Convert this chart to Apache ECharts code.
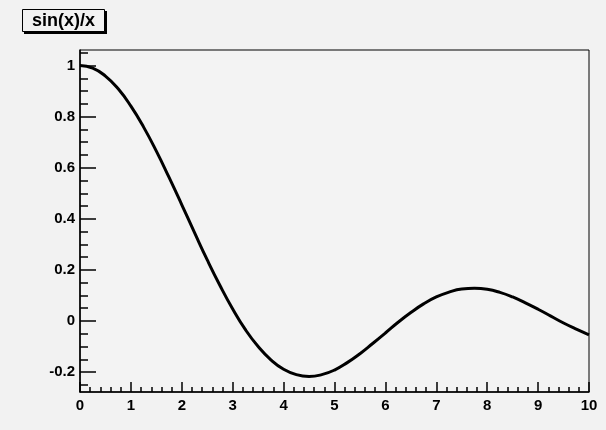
<!DOCTYPE html>
<html>
<head>
<meta charset="utf-8">
<script src="https://cdn.jsdelivr.net/npm/echarts@6/dist/echarts.min.js"></script>
<style>
  html, body { margin: 0; padding: 0; background: #f2f2f2; }
  #chart { width: 606px; height: 430px; }
</style>
</head>
<body>
<div id="chart"></div>
<script>
// curve samples (x, y)
var xValues = [0, 0.25, 0.5, 0.75, 1, 1.25, 1.5, 1.75, 2, 2.25, 2.5, 2.75, 3, 3.25, 3.5, 3.75,
  4, 4.25, 4.5, 4.75, 5, 5.25, 5.5, 5.75, 6, 6.25, 6.5, 6.75, 7, 7.25, 7.5, 7.75,
  8, 8.25, 8.5, 8.75, 9, 9.25, 9.5, 9.75, 10];
var yValues = [1, 0.990, 0.959, 0.909, 0.841, 0.759, 0.665, 0.562, 0.455, 0.346, 0.239, 0.139,
  0.047, -0.034, -0.100, -0.152, -0.189, -0.210, -0.217, -0.210, -0.192, -0.163, -0.128, -0.088,
  -0.047, -0.005, 0.033, 0.067, 0.094, 0.113, 0.125, 0.128, 0.124, 0.112, 0.094, 0.071,
  0.046, 0.019, -0.008, -0.032, -0.054];

var yTicks = [-0.2, 0, 0.2, 0.4, 0.6, 0.8, 1];
var yMinorTicks = [-0.25, -0.15, -0.1, -0.05, 0.05, 0.1, 0.15, 0.25, 0.3, 0.35, 0.45, 0.5, 0.55,
  0.65, 0.7, 0.75, 0.85, 0.9, 0.95, 1.05];
var titleText = 'sin(x)/x';

var points = xValues.map(function (x, i) { return [x, yValues[i]]; });

var font = 'Liberation Sans, Arial, sans-serif';
var labelStyle = { color: '#000', fontFamily: font, fontWeight: 'bold', fontSize: 15 };

var chart = echarts.init(document.getElementById('chart'));
chart.setOption({
  backgroundColor: '#f2f2f2',
  animation: false,
  grid: {
    left: 80, top: 50, right: 17, bottom: 38,
    show: true, borderColor: '#000', borderWidth: 1, backgroundColor: '#f3f3f3'
  },
  xAxis: {
    type: 'value', min: 0, max: 10, interval: 1,
    axisLine: { onZero: false, lineStyle: { color: '#000', width: 1.5 } },
    axisTick: { inside: true, length: 10, lineStyle: { color: '#000', width: 1.5 } },
    minorTick: { show: true, splitNumber: 5, length: 5, lineStyle: { color: '#000', width: 1.5 } },
    splitLine: { show: false },
    axisLabel: Object.assign({ margin: 6 }, labelStyle)
  },
  yAxis: [{
    type: 'value', min: -0.278, max: 1.061,
    axisLine: { show: true, onZero: false, lineStyle: { color: '#000', width: 1.5 } },
    axisTick: { show: true, inside: true, length: 16, customValues: yTicks, lineStyle: { color: '#000', width: 1.5 } },
    splitLine: { show: false },
    axisLabel: Object.assign({ margin: 5, customValues: yTicks }, labelStyle)
  }, {
    type: 'value', min: -0.278, max: 1.061, position: 'left',
    axisLine: { show: false, onZero: false },
    axisTick: { show: true, inside: true, length: 8, customValues: yMinorTicks, lineStyle: { color: '#000', width: 1.5 } },
    splitLine: { show: false },
    axisLabel: { show: false }
  }],
  graphic: [
    { type: 'rect', shape: { x: 24, y: 11, width: 83, height: 23 }, style: { fill: '#000' } },
    { type: 'rect', shape: { x: 22.5, y: 9.5, width: 82, height: 22 }, style: { fill: '#f2f2f2', stroke: '#000', lineWidth: 1 } },
    { type: 'text', x: 63.5, y: 21, style: { text: titleText, fill: '#000', font: 'bold 18px ' + font, textAlign: 'center', textVerticalAlign: 'middle' } }
  ],
  series: [{
    type: 'line', data: points, showSymbol: false, smooth: true,
    lineStyle: { color: '#000', width: 3 }
  }]
});
</script>
</body>
</html>
